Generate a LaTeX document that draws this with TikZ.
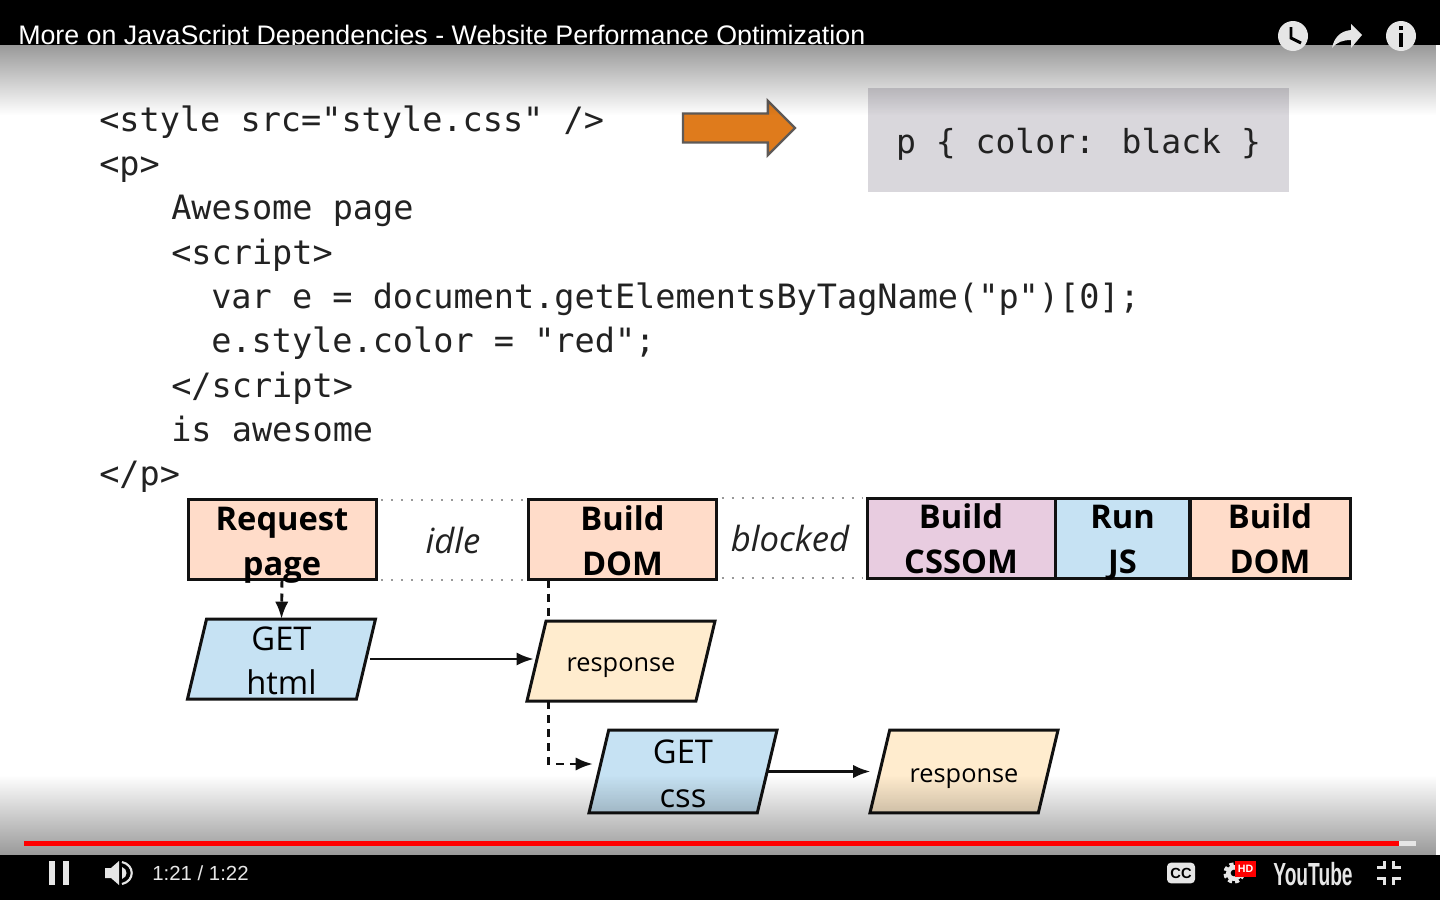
\documentclass[tikz,border=0pt]{standalone}
\usepackage{fontspec}
\usepackage{tikz}
\usetikzlibrary{arrows.meta,calc,fadings,positioning,shapes.arrows,shapes.geometric}
\setmainfont{Liberation Sans}
\newfontfamily\slidefont{Open Sans}
\newfontfamily\codefont{DejaVu Sans Mono}
\definecolor{slideink}{HTML}{111111}
\definecolor{codeink}{HTML}{222222}
\definecolor{cssgray}{HTML}{D9D7DC}
\definecolor{arroworange}{HTML}{DF7B1C}
\definecolor{arrowedge}{HTML}{5F5A57}
\definecolor{stagepeach}{HTML}{FFDCC9}
\definecolor{stagepink}{HTML}{E8CCE0}
\definecolor{stageblue}{HTML}{C6E2F3}
\definecolor{stagecream}{HTML}{FFECCE}
\definecolor{playerlight}{HTML}{E6E6E6}
\newcommand{\stagelines}[2]{\rule{0pt}{22.85pt}\smash{#1}\\\smash{#2}\rule[-3.35pt]{0pt}{3.35pt}}
\newcommand{\flowlines}[2]{\rule{0pt}{20.5pt}\smash{#1}\\\smash{#2}}
\newcommand{\replyline}[1]{\rule[-4.6pt]{0pt}{25.6pt}\smash{#1}}
\tikzfading[name=topfade, top color=transparent!60, middle color=transparent!85, bottom color=transparent!100]
\tikzfading[name=bottomfade, top color=transparent!100, middle color=transparent!93, bottom color=transparent!60]
\tikzset{
    code line/.style={
        anchor=base west,
        inner sep=0pt,
        text=codeink,
        font=\codefont\fontsize{25.15}{30}\selectfont
    },
    stage box/.style={
        draw=slideink,
        line width=2.25pt,
        outer sep=0pt,
        inner sep=0pt,
        minimum height=60pt,
        align=center,
        font=\slidefont\bfseries\fontsize{24.5}{33.75}\selectfont
    },
    flow box/.style={
        draw=slideink,
        line width=2.25pt,
        trapezium,
        trapezium left angle=76.6,
        trapezium right angle=103.4,
        trapezium stretches body=true,
        minimum width=141pt,
        outer sep=0pt,
        inner xsep=0pt,
        inner ysep=3.25pt,
        align=center,
        font=\slidefont\fontsize{24.5}{33}\selectfont
    },
    flow reply/.style={
        flow box,
        fill=stagecream,
        inner ysep=17.2pt,
        font=\slidefont\fontsize{19}{24}\selectfont
    },
    wait label/.style={
        inner sep=0pt,
        text=codeink,
        font=\slidefont\itshape\fontsize{26}{30}\selectfont
    },
    wait edge/.style={gray!80, line width=1.5pt, dash pattern=on 1.5pt off 6pt, shorten >=3pt, shorten <=4pt},
    flow arrow/.style={-{Latex[length=13pt,width=10pt]}, line width=2.2pt, slideink},
    flow dash/.style={line width=2.2pt, slideink, dash pattern=on 6pt off 4.5pt},
    player text/.style={inner sep=0pt, text=playerlight}
}
\begin{document}
\begin{tikzpicture}[x=0.75pt,y=-0.75pt]
    \useasboundingbox (0,0) rectangle (1440,900);
    \fill[black] (0,0) rectangle (1440,900);
    \node[anchor=base west,inner sep=0pt,text=white,font=\fontsize{20.1}{24}\selectfont] (title) at (18,44) {More on JavaScript Dependencies - Website Performance Optimization};
    \fill[white] (0,45) rectangle (1440,855);

    % source listing
    \node[code line] (line1) at (99,131) {<style src="style.css" />};
    \node[code line] (line2) at (99,175) {<p>};
    \node[code line] (line3) at (171,219) {Awesome page};
    \node[code line] (line4) at (171,264) {<script>};
    \node[code line] (line5) at (211,308) {var e = document.getElementsByTagName("p")[0];};
    \node[code line] (line6) at (211,352) {e.style.color = "red";};
    \node[code line] (line7) at (171,397) {</script>};
    \node[code line] (line8) at (171,441) {is awesome};
    \node[code line] (line9) at (99,485) {</p>};

    \node[single arrow, draw=arrowedge, line width=1.8pt, fill=arroworange, outer sep=0pt, inner xsep=0pt, inner ysep=10pt,
        minimum width=39pt, minimum height=84pt, single arrow head extend=9.5pt, anchor=west] (cssarrow) at (683,128) {};
    \node[fill=cssgray, minimum width=316pt, minimum height=78pt, inner sep=0pt, text=codeink,
        font=\codefont\fontsize{24.8}{30}\selectfont] (cssrule) at (1078.5,140) {\rule{0pt}{25pt}p \{ color: black \}};

    % top row
    \node[stage box, fill=stagepeach, minimum width=141pt] (reqpage) at (282,539.5) {\stagelines{Request}{page}};
    \node[stage box, fill=stagepeach, minimum width=140.5pt] (builddom) at (622.5,539.5) {\stagelines{Build}{DOM}};
    \node[stage box, fill=stagepink, minimum width=141pt] (buildcssom) at (961,538) {\stagelines{Build}{CSSOM}};
    \node[stage box, fill=stageblue, minimum width=101pt] (runjs) at (1122.5,538) {\stagelines{Run}{JS}};
    \node[stage box, fill=stagepeach, minimum width=120pt] (builddomb) at (1270,538) {\stagelines{Build}{DOM}};
    \node[wait label] (idle) at (453,540) {idle};
    \node[wait label] (blocked) at (790,538) {blocked};
    \draw[wait edge] (reqpage.north east) -- (builddom.north west);
    \draw[wait edge] (reqpage.south east) -- (builddom.south west);
    \draw[wait edge] ([yshift=1.5pt]builddom.north east) -- ([yshift=1.5pt]builddom.north east -| buildcssom.west);
    \draw[wait edge] ([yshift=1.5pt]builddom.south east) -- ([yshift=1.5pt]builddom.south east -| buildcssom.west);

    % requests
    \node[flow box, fill=stageblue] (gethtml) at (281.5,659) {\flowlines{GET}{html}};
    \node[flow reply] (reshtml) at (621,661) {\replyline{response}};
    \node[flow box, fill=stageblue, inner ysep=4.25pt] (getcss) at (683,771.5) {\flowlines{GET}{css}};
    \node[flow reply, inner ysep=18.2pt] (rescss) at (964,771.5) {\replyline{response}};

    \coordinate (domdrop) at ($(builddom.south west)+(20,0)$);
    \coordinate (csstip) at (593,764);
    \draw[flow dash, -{Latex[length=13pt,width=10pt]}] (reqpage.south) -- (gethtml.north);
    \draw[flow dash] (domdrop) -- (domdrop |- reshtml.north);
    \draw[flow dash, -{Latex[length=13pt,width=10pt]}] (domdrop |- reshtml.south) |- (csstip);
    \draw[flow arrow, shorten <=3pt, shorten >=2pt] (gethtml.east) -- (gethtml.east -| reshtml.west);
    \draw[flow arrow, shorten >=7pt] (getcss.east) -- (rescss.west);

    \fill[black, path fading=topfade] (0,45) rectangle (1440,115);
    \fill[black, path fading=bottomfade] (0,775) rectangle (1440,855);

    % player controls, top
    \fill[playerlight] (1293,36) circle[radius=11.25pt];
    \draw[black, line width=2.2pt] (1291,27) -- (1291,38) -- (1301,43);
    \fill[playerlight] (1362,35) -- (1351,24) -- (1351,30) .. controls (1340,31) and (1334,38) .. (1332,48)
        .. controls (1337,42) and (1343,40) .. (1351,40) -- (1351,48) -- cycle;
    \fill[playerlight] (1401,36) circle[radius=11.25pt];
    \fill[black] (1399,33) rectangle (1403,47);
    \fill[black] (1399,26) rectangle (1403,30);

    % player controls, bottom
    \fill[red] (24,841) rectangle (1399,846);
    \fill[playerlight] (1399,841) rectangle (1416,846);
    \fill[playerlight] (49,861) rectangle (55,885);
    \fill[playerlight] (63,861) rectangle (69,885);
    \fill[playerlight] (105,868) -- (111,868) -- (119,861) -- (119,885) -- (111,878) -- (105,878) -- cycle;
    \fill[playerlight] (122,867) .. controls (128,869) and (128,877) .. (122,879) -- cycle;
    \draw[playerlight, line width=1.6pt] (122,862) .. controls (135,865) and (135,881) .. (122,884);
    \node[player text, anchor=west, font=\fontsize{15.3}{18}\selectfont] (timer) at (152,873) {1:21 / 1:22};

    \node[fill=playerlight, rounded corners=3pt, minimum width=21pt, minimum height=15.5pt, inner sep=0pt,
        font=\bfseries\fontsize{11}{12}\selectfont] (ccbutton) at (1181,873) {CC};
    \fill[playerlight] (1234,873) circle[radius=6pt];
    \draw[playerlight, line width=3pt, dash pattern=on 3pt off 2.2pt] (1234,873) circle[radius=6.5pt];
    \fill[black] (1234,873) circle[radius=2.5pt];
    \node[fill=red, text=white, minimum width=15.5pt, minimum height=12pt, inner sep=0pt,
        font=\bfseries\fontsize{8}{9}\selectfont] (hdbadge) at (1245.5,869) {HD};
    \node[player text, xscale=0.6, transform shape, font=\bfseries\fontsize{24}{26}\selectfont] (ytlogo) at (1313,874) {YouTube};
    \foreach \sx/\sy in {1/1,1/-1,-1/1,-1/-1} {
        \draw[playerlight, line width=2.25pt] ($(1389,873)+(-12*\sx,-5.5*\sy)$) -- ($(1389,873)+(-4.5*\sx,-5.5*\sy)$) -- ($(1389,873)+(-4.5*\sx,-12*\sy)$);
    }
\end{tikzpicture}
\end{document}
